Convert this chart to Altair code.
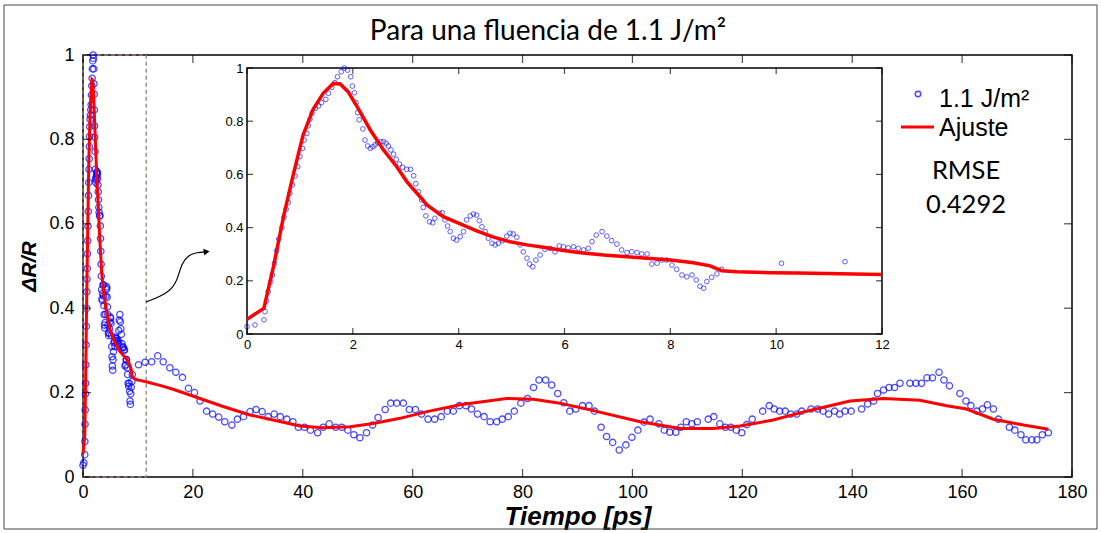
import altair as alt
import pandas as pd

# ---------------- data ----------------
dense_t = [0.0, 0.15, 0.32, 0.34, 0.37, 0.40, 0.45, 0.48, 0.52, 0.56, 0.60, 0.66, 0.70, 0.74, 0.78, 0.81,
           0.86, 0.91, 0.96, 1.00, 1.05, 1.08, 1.13, 1.16, 1.19, 1.23, 1.29, 1.35, 1.41, 1.49, 1.54, 1.60,
           1.66, 1.71, 1.78, 1.84, 1.90, 1.96, 1.99, 2.03, 2.06, 2.09, 2.12, 2.19, 2.23, 2.28, 2.33, 2.38,
           2.42, 2.47, 2.53, 2.58, 2.63, 2.67, 2.72, 2.77, 2.82, 2.88, 2.94, 3.02, 3.09, 3.15, 3.19, 3.24,
           3.30, 3.33, 3.38, 3.45, 3.51, 3.55, 3.64, 3.69, 3.74, 3.79, 3.84, 3.90, 3.96, 4.03, 4.09, 4.15,
           4.22, 4.28, 4.34, 4.39, 4.44, 4.50, 4.56, 4.63, 4.69, 4.75, 4.83, 4.91, 4.97, 5.03, 5.10, 5.16,
           5.22, 5.29, 5.34, 5.40, 5.46, 5.54, 5.63, 5.73, 5.82, 5.90, 5.98, 6.07, 6.17, 6.26, 6.36, 6.45,
           6.52, 6.60, 6.71, 6.80, 6.89, 6.99, 7.08, 7.18, 7.27, 7.37, 7.46, 7.56, 7.65, 7.75, 7.84, 7.93,
           8.03, 8.12, 8.22, 8.31, 8.41, 8.49, 8.56, 8.63, 8.69, 8.78, 8.88, 8.97]
dense_v = [0.028, 0.034, 0.053, 0.084, 0.125, 0.159, 0.197, 0.222, 0.266, 0.313, 0.357, 0.400, 0.439, 0.469, 0.494, 0.529,
           0.560, 0.594, 0.629, 0.667, 0.698, 0.729, 0.754, 0.783, 0.807, 0.830, 0.848, 0.857, 0.870, 0.882, 0.905, 0.927,
           0.945, 0.967, 0.986, 1.000, 0.992, 0.967, 0.932, 0.907, 0.870, 0.832, 0.805, 0.771, 0.729, 0.707, 0.698, 0.704,
           0.711, 0.719, 0.723, 0.723, 0.717, 0.707, 0.692, 0.676, 0.657, 0.639, 0.627, 0.619, 0.619, 0.595, 0.565, 0.535,
           0.504, 0.476, 0.444, 0.422, 0.418, 0.435, 0.454, 0.456, 0.429, 0.406, 0.385, 0.360, 0.353, 0.366, 0.385, 0.429,
           0.444, 0.451, 0.447, 0.426, 0.403, 0.385, 0.360, 0.341, 0.335, 0.341, 0.351, 0.368, 0.379, 0.376, 0.364, 0.335,
           0.309, 0.285, 0.263, 0.253, 0.278, 0.297, 0.318, 0.322, 0.309, 0.331, 0.328, 0.324, 0.328, 0.322, 0.316, 0.322,
           0.347, 0.372, 0.385, 0.368, 0.351, 0.338, 0.316, 0.306, 0.309, 0.306, 0.301, 0.301, 0.263, 0.266, 0.278, 0.278,
           0.259, 0.243, 0.222, 0.215, 0.222, 0.203, 0.180, 0.172, 0.197, 0.213, 0.226, 0.243]

tail_t = [10.1, 11.3, 12.5, 13.6, 14.6, 15.8, 16.9, 18.1, 19.2, 20.3, 21.3, 22.5, 23.6, 24.7, 25.8, 27.1,
          28.1, 29.2, 30.4, 31.5, 32.6, 33.7, 34.8, 35.9, 37.1, 38.2, 39.2, 40.3, 41.4, 42.7, 43.7, 44.8,
          46.0, 47.1, 48.2, 49.3, 50.4, 51.6, 52.7, 53.7, 55.0, 56.0, 57.1, 58.3, 59.4, 60.5, 61.6, 62.8,
          64.0, 65.2, 66.3, 67.4, 68.5, 69.7, 70.7, 71.8, 73.0, 74.1, 75.3, 76.3, 77.4, 78.5, 79.7, 80.9,
          82.0, 83.0, 84.2, 85.3, 86.4, 87.5, 88.6, 89.7, 90.9, 92.1, 93.1, 94.3, 95.3, 96.4, 97.6, 98.8,
          99.9, 101.0, 102.1, 103.2, 104.8, 105.8, 106.8, 107.9, 108.8, 109.8, 110.8, 111.8, 113.8, 114.8, 115.9, 116.9,
          117.9, 118.9, 119.9, 120.8, 121.8, 123.7, 124.9, 125.8, 126.8, 127.8, 128.8, 129.9, 130.8, 132.5, 133.7, 134.7,
          135.7, 136.8, 137.7, 138.7, 139.8, 141.7, 142.8, 143.9, 144.6, 145.7, 146.7, 147.7, 148.7, 150.5, 151.6, 152.6,
          153.6, 154.6, 155.8, 156.7, 157.7, 159.6, 160.7, 161.6, 162.7, 163.7, 164.6, 165.7, 166.6, 168.6, 169.6, 170.7,
          171.6, 172.7, 173.6, 174.6, 175.7]
tail_v = [0.266, 0.272, 0.273, 0.287, 0.273, 0.259, 0.248, 0.236, 0.210, 0.200, 0.180, 0.156, 0.149, 0.142, 0.131, 0.123,
          0.137, 0.143, 0.155, 0.160, 0.155, 0.143, 0.149, 0.143, 0.137, 0.131, 0.118, 0.118, 0.111, 0.105, 0.118, 0.126,
          0.118, 0.118, 0.111, 0.100, 0.093, 0.105, 0.123, 0.141, 0.160, 0.175, 0.175, 0.175, 0.160, 0.160, 0.149, 0.137,
          0.137, 0.143, 0.156, 0.156, 0.169, 0.169, 0.161, 0.149, 0.143, 0.131, 0.131, 0.137, 0.143, 0.156, 0.175, 0.186,
          0.212, 0.230, 0.230, 0.218, 0.198, 0.176, 0.156, 0.161, 0.169, 0.169, 0.156, 0.118, 0.096, 0.082, 0.064, 0.076,
          0.094, 0.111, 0.130, 0.137, 0.126, 0.111, 0.106, 0.106, 0.118, 0.131, 0.126, 0.131, 0.137, 0.143, 0.126, 0.118,
          0.118, 0.111, 0.105, 0.124, 0.137, 0.156, 0.169, 0.161, 0.156, 0.156, 0.149, 0.149, 0.156, 0.161, 0.161, 0.156,
          0.149, 0.156, 0.149, 0.156, 0.156, 0.161, 0.173, 0.180, 0.198, 0.206, 0.212, 0.212, 0.222, 0.222, 0.222, 0.222,
          0.235, 0.235, 0.248, 0.230, 0.216, 0.198, 0.180, 0.169, 0.156, 0.161, 0.171, 0.161, 0.137, 0.118, 0.111, 0.100,
          0.088, 0.088, 0.088, 0.100, 0.105]

fit_t = [0.0, 0.32, 0.50, 0.69, 0.88, 1.06, 1.25, 1.44, 1.63, 1.76, 1.91, 2.10, 2.33, 2.58, 2.83, 3.02,
         3.27, 3.40, 3.71, 4.03, 4.34, 4.66, 4.97, 5.29, 5.60, 5.92, 6.26, 6.74, 7.37, 8.00, 8.44, 8.75,
         8.97, 9.26, 9.89, 10.4, 12.0, 14.0, 16.4, 21.3, 25.5, 30.4, 34.6, 39.5, 43.7, 48.6, 52.8, 57.7,
         62.6, 68.6, 77.1, 82.0, 86.8, 92.3, 101.4, 108.7, 114.7, 119.6, 125.6, 131.7, 139.6, 145.7, 152.3, 157.2,
         160.8, 165.7, 171.2, 175.7]
fit_v = [0.055, 0.097, 0.253, 0.441, 0.604, 0.748, 0.845, 0.905, 0.942, 0.940, 0.911, 0.848, 0.767, 0.692, 0.629, 0.573,
         0.516, 0.485, 0.441, 0.414, 0.388, 0.364, 0.347, 0.335, 0.326, 0.316, 0.306, 0.297, 0.288, 0.278, 0.268, 0.256,
         0.238, 0.234, 0.230, 0.229, 0.224, 0.217, 0.208, 0.186, 0.167, 0.147, 0.135, 0.121, 0.117, 0.119, 0.127, 0.139,
         0.155, 0.171, 0.186, 0.184, 0.175, 0.159, 0.131, 0.115, 0.115, 0.121, 0.135, 0.156, 0.180, 0.186, 0.182, 0.169,
         0.161, 0.137, 0.123, 0.113]

main_x_ticks = [0, 20, 40, 60, 80, 100, 120, 140, 160, 180]
y_ticks = [0, 0.2, 0.4, 0.6, 0.8, 1]
inset_x_ticks = [0, 2, 4, 6, 8, 10, 12]

zoom_box_t = [0, 11.5]
zoom_box_v = [0, 1]
arrow_t = [11.5, 14.0, 16.4, 17.35, 17.96, 19.2, 20.7, 22.5]
arrow_v = [0.415, 0.427, 0.447, 0.475, 0.506, 0.526, 0.532, 0.534]

title_text = "Para una fluencia de 1.1 J/m²"
series_label = "1.1 J/m²"
fit_label = "Ajuste"
rmse_lines = ["RMSE", "0.4292"]

# ---------------- styling ----------------
W, H = 989, 422
BLUE = "#0000FF"
RED = "#FF0000"
AXFONT = "Liberation Sans"

pts = pd.DataFrame({"t": dense_t + tail_t, "v": dense_v + tail_v})
fit = pd.DataFrame({"t": fit_t, "v": fit_v})
pts_in = pts[pts["t"] <= 12.0]
fit_in = fit[fit["t"] <= 12.01]

xm = alt.Scale(domain=[0, 180], nice=False, zero=False)
ym = alt.Scale(domain=[0, 1], nice=False, zero=False)
xi = alt.Scale(domain=[0, 12], nice=False, zero=False, range=[164, 799])
yi = alt.Scale(domain=[0, 1], nice=False, zero=False, range=[279, 13])

lab_expr = "format(datum.value, '~g')"

main_x_axis = alt.Axis(values=main_x_ticks, orient="bottom", ticks=False, domain=False, grid=False,
                       labelFont=AXFONT, labelFontSize=18, labelColor="black", labelPadding=6,
                       labelFlush=False, labelOverlap=False, labelExpr=lab_expr,
                       title="Tiempo [ps]", titleFont=AXFONT, titleFontSize=26, titleFontStyle="italic",
                       titleFontWeight="bold", titleColor="black", titlePadding=2)
main_y_axis = alt.Axis(values=y_ticks, orient="left", ticks=False, domain=False, grid=False,
                       labelFont=AXFONT, labelFontSize=18, labelColor="black", labelPadding=9,
                       labelFlush=False, labelOverlap=False, labelExpr=lab_expr,
                       title="ΔR/R", titleFont=AXFONT, titleFontSize=21, titleFontStyle="italic",
                       titleFontWeight="bold", titleColor="black", titlePadding=9)
inset_x_axis = alt.Axis(values=inset_x_ticks, orient="bottom", offset=-143, ticks=False, domain=False,
                        grid=False, labelFont=AXFONT, labelFontSize=13, labelColor="black", labelPadding=4,
                        labelFlush=False, labelOverlap=False, labelExpr=lab_expr, title="")
inset_y_axis = alt.Axis(values=y_ticks, orient="left", offset=-164, ticks=False, domain=False,
                        grid=False, labelFont=AXFONT, labelFontSize=13, labelColor="black", labelPadding=4,
                        labelFlush=False, labelOverlap=False, labelExpr=lab_expr, title="")

one = pd.DataFrame({"a": [0]})


def enc_xy(xs, ys, xax, yax):
    return dict(x=alt.X("t:Q", scale=xs, axis=xax), y=alt.Y("v:Q", scale=ys, axis=yax))


def tick_layers(xs, ys, xmax, ymax, xs_scale, ys_scale, xax, yax, length):
    half = length / 2.0
    layers = []
    bx = pd.DataFrame({"t": xs, "v": [0] * len(xs)})
    tx = pd.DataFrame({"t": xs, "v": [ymax] * len(xs)})
    ly = pd.DataFrame({"t": [0] * len(ys), "v": ys})
    ry = pd.DataFrame({"t": [xmax] * len(ys), "v": ys})
    for df, orient, dx, dy in [(bx, "vertical", 0, -half), (tx, "vertical", 0, half),
                               (ly, "horizontal", half, 0), (ry, "horizontal", -half, 0)]:
        layers.append(
            alt.Chart(df).mark_tick(orient=orient, size=length, thickness=1.2, color="black",
                                    xOffset=dx, yOffset=dy)
            .encode(**enc_xy(xs_scale, ys_scale, xax, yax))
        )
    return layers


# ---------------- main panel ----------------
box = alt.Chart(pd.DataFrame({"t": [zoom_box_t[0]], "t1": [zoom_box_t[1]],
                              "v": [zoom_box_v[0]], "v1": [zoom_box_v[1]]})).mark_rect(
    fillOpacity=0, stroke="#9C7A7A", strokeWidth=1.3, strokeDash=[4, 3]
).encode(x2="t1", y2="v1", **enc_xy(xm, ym, main_x_axis, main_y_axis))

main_pts = alt.Chart(pts).mark_point(shape="circle", filled=False, color=BLUE, size=40,
                                     strokeWidth=1.3).encode(**enc_xy(xm, ym, main_x_axis, main_y_axis))
main_fit = alt.Chart(fit).mark_line(color=RED, strokeWidth=3).encode(
    order="t:Q", **enc_xy(xm, ym, main_x_axis, main_y_axis))
arrow_df = pd.DataFrame({"t": arrow_t, "v": arrow_v, "i": list(range(len(arrow_t)))})
arrow_line = alt.Chart(arrow_df).mark_line(color="black", strokeWidth=1.2, interpolate="basis").encode(
    order="i:Q", **enc_xy(xm, ym, main_x_axis, main_y_axis))
arrow_head = alt.Chart(arrow_df.tail(1)).mark_point(shape="triangle-right", filled=True, color="black",
                                                    size=45, angle=350, opacity=1).encode(
    **enc_xy(xm, ym, main_x_axis, main_y_axis))

main_layer = alt.layer(box, main_pts, main_fit, arrow_line, arrow_head,
                       *tick_layers(main_x_ticks, y_ticks, 180, 1, xm, ym, main_x_axis, main_y_axis, 8))

# ---------------- inset ----------------
in_frame = alt.Chart(pd.DataFrame({"t": [0], "t1": [12], "v": [0], "v1": [1]})).mark_rect(
    fill="white", stroke="black", strokeWidth=1.5
).encode(x2="t1", y2="v1", **enc_xy(xi, yi, inset_x_axis, inset_y_axis))
in_pts = alt.Chart(pts_in).mark_point(shape="circle", filled=False, color=BLUE, size=22,
                                      strokeWidth=0.9).encode(**enc_xy(xi, yi, inset_x_axis, inset_y_axis))
in_fit = alt.Chart(fit_in).mark_line(color=RED, strokeWidth=3.5).encode(
    order="t:Q", **enc_xy(xi, yi, inset_x_axis, inset_y_axis))
inset_layer = alt.layer(in_frame, in_pts, in_fit,
                        *tick_layers(inset_x_ticks, y_ticks, 12, 1, xi, yi, inset_x_axis, inset_y_axis, 6))

# ---------------- texts / legend (decorations) ----------------
title_mark = alt.Chart(one).mark_text(text=title_text, font="Lato", fontSize=28, align="center",
                                      baseline="middle", color="black").encode(
    x=alt.value(465), y=alt.value(-23))
leg_circle = alt.Chart(one).mark_point(shape="circle", filled=False, color=BLUE, size=30, strokeWidth=1.5).encode(
    x=alt.value(835), y=alt.value(39))
leg_text1 = alt.Chart(one).mark_text(text=series_label, font=AXFONT, fontSize=25, align="left",
                                     baseline="middle", color="black").encode(x=alt.value(856), y=alt.value(44))
leg_line = alt.Chart(one).mark_rule(color=RED, strokeWidth=3).encode(
    x=alt.value(818), x2=alt.value(851), y=alt.value(72))
leg_text2 = alt.Chart(one).mark_text(text=fit_label, font=AXFONT, fontSize=25, align="left",
                                     baseline="middle", color="black").encode(x=alt.value(856), y=alt.value(73))
rmse1 = alt.Chart(one).mark_text(text=rmse_lines[0], font="Lato", fontSize=25.5, align="center",
                                 baseline="middle", color="black").encode(x=alt.value(883), y=alt.value(116))
rmse2 = alt.Chart(one).mark_text(text=rmse_lines[1], font="Lato", fontSize=25.5, align="center",
                                 baseline="middle", color="black").encode(x=alt.value(883), y=alt.value(150))
outer = alt.Chart(one).mark_rect(fillOpacity=0, stroke="#444444", strokeWidth=1).encode(
    x=alt.value(-79), x2=alt.value(1014), y=alt.value(-50), y2=alt.value(474))

deco_layer = alt.layer(outer, title_mark, leg_circle, leg_text1, leg_line, leg_text2, rmse1, rmse2)

chart = alt.layer(main_layer, inset_layer, deco_layer).resolve_scale(
    x="independent", y="independent"
).properties(
    width=W, height=H,
    padding={"left": 83, "top": 55, "right": 29, "bottom": 56},
    autosize=alt.AutoSizeParams(type="none"),
    background="white",
).configure_view(stroke="black", strokeWidth=1.5)

chart.save("out.html", embed_options={"renderer": "svg", "actions": False})
